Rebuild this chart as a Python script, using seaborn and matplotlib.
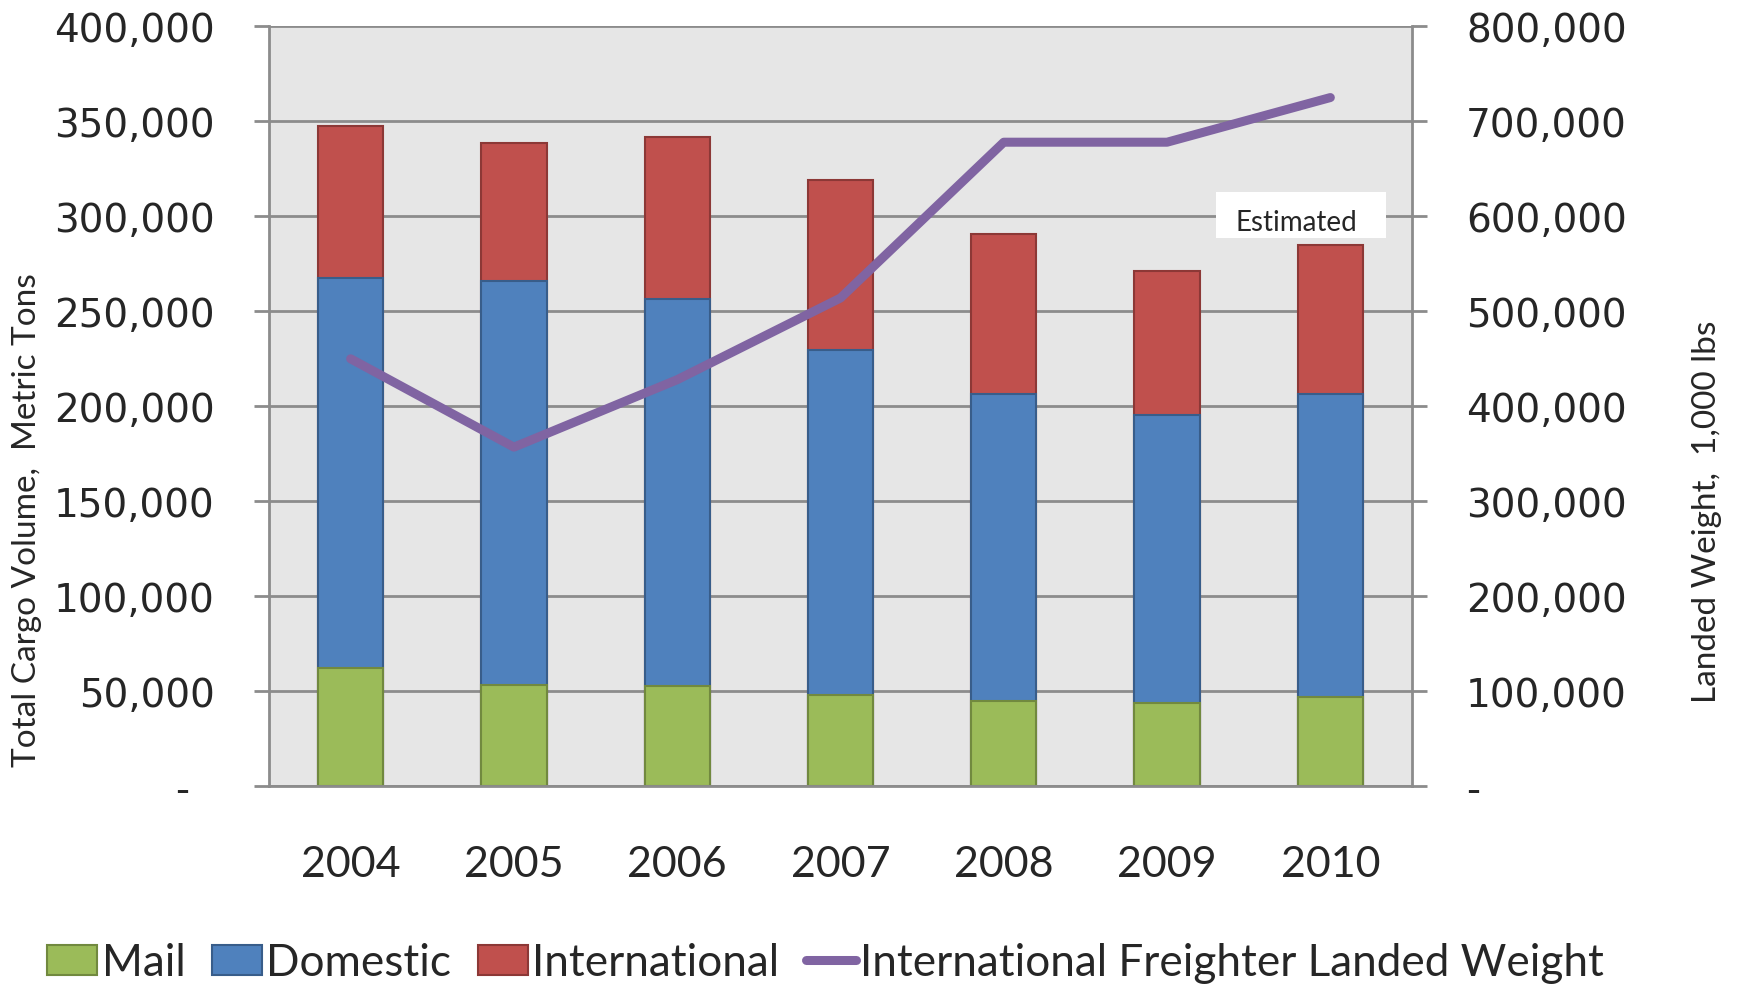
import numpy as np
import pandas as pd
import matplotlib
matplotlib.use("Agg")
import matplotlib.pyplot as plt
import seaborn as sns
from matplotlib.patches import Patch, Rectangle
from matplotlib.lines import Line2D
from matplotlib.ticker import FuncFormatter, FixedLocator

# Annual cargo volumes (metric tons) and freighter landed weight (1,000 lbs)
years = ["2004", "2005", "2006", "2007", "2008", "2009", "2010"]
mail = [62100, 53500, 52600, 48000, 44700, 43700, 47000]
domestic = [205300, 212500, 203700, 181800, 161600, 151700, 159600]
international = [80000, 72600, 85400, 89100, 84400, 75800, 78300]
landed_weight = [450000, 357000, 428000, 514000, 678000, 678000, 725000]

left_ticks = [0, 50000, 100000, 150000, 200000, 250000, 300000, 350000, 400000]
right_ticks = [0, 100000, 200000, 300000, 400000, 500000, 600000, 700000, 800000]

C_MAIL, E_MAIL = "#9bbb59", "#71893f"
C_DOM, E_DOM = "#4f81bd", "#385d8a"
C_INT, E_INT = "#c0504d", "#8c3836"
C_LINE = "#8064a2"
GRID = "#8c8c8c"

sns.set_style("white")
plt.rcParams["font.family"] = ["DejaVu Sans"]
LABEL_FONT = ["Lato", "DejaVu Sans"]

df = pd.DataFrame({
    "year": years,
    "mail": mail,
    "domestic": domestic,
    "international": international,
})
df["mail_dom"] = df["mail"] + df["domestic"]
df["total"] = df["mail_dom"] + df["international"]

W, H = 1738, 987
fig = plt.figure(figsize=(W / 100, H / 100), dpi=100)
ax = fig.add_axes([269 / W, 1 - 787.3 / H, (1412 - 269) / W, 760 / H])
ax.set_facecolor("#e6e6e6")
ax.set_axisbelow(True)

# Stacked bars: draw cumulative totals back to front
for col, fc, ec in [("total", C_INT, E_INT), ("mail_dom", C_DOM, E_DOM), ("mail", C_MAIL, E_MAIL)]:
    sns.barplot(data=df, x="year", y=col, color=fc, edgecolor=ec, linewidth=1.5,
                width=0.4, saturation=1, ax=ax, zorder=2)

ax.set_xlim(-0.5, len(years) - 0.5)
ax.set_ylim(0, 400000)
ax.set_xlabel("")
ax.set_ylabel("")

ax.yaxis.set_major_locator(FixedLocator(left_ticks))
ax.yaxis.set_major_formatter(FuncFormatter(lambda v, p: "-  " if v == 0 else f"{v:,.0f}"))
ax.yaxis.grid(True, color=GRID, linewidth=2)
ax.xaxis.grid(False)

ax.set_xticks(range(len(years)))
ax.set_xticklabels(years, fontfamily=LABEL_FONT, fontsize=31)
ax.set_xticks(np.arange(-0.5, len(years)), minor=True)
ax.tick_params(axis="x", which="major", length=0, pad=42)
ax.tick_params(axis="x", which="minor", length=11, width=1.5, color=GRID, direction="out")
ax.tick_params(axis="y", length=11, width=2, color=GRID, direction="out", labelsize=28, pad=28)

for side in ["left", "right", "bottom"]:
    ax.spines[side].set_color(GRID)
    ax.spines[side].set_linewidth(2)
ax.spines["top"].set_visible(False)

# Secondary axis: landed weight line
ax2 = ax.twinx()
sns.lineplot(x=np.arange(len(years)), y=landed_weight, color=C_LINE, linewidth=6.5,
             ax=ax2, solid_capstyle="round", zorder=5)
ax2.set_ylim(0, 800000)
ax2.yaxis.set_major_locator(FixedLocator(right_ticks))
ax2.yaxis.set_major_formatter(FuncFormatter(lambda v, p: "-" if v == 0 else f"{v:,.0f}"))
ax2.tick_params(axis="y", length=11, width=2, color=GRID, direction="out", labelsize=28, pad=28)
ax2.grid(False)
ax2.set_ylabel("")
for side in ["left", "right", "top", "bottom"]:
    ax2.spines[side].set_visible(False)

# "Estimated" note on a white panel
ax2.add_patch(Rectangle((0.8285, 0.7214), 0.1487, 0.0605, transform=ax2.transAxes,
                        facecolor="white", edgecolor="none", zorder=6))
ax2.text(0.8985, 0.743, "Estimated", transform=ax2.transAxes, ha="center", va="center",
         fontsize=20, fontfamily=LABEL_FONT, zorder=7)

fig.text(27 / W, 1 - 520 / H, "Total Cargo Volume,  Metric Tons", rotation=90,
         ha="center", va="center", fontsize=24, fontfamily=LABEL_FONT)
fig.text(1707 / W, 1 - 511.5 / H, "Landed Weight,  1,000 lbs", rotation=90,
         ha="center", va="center", fontsize=24, fontfamily=LABEL_FONT)

handles = [
    Patch(facecolor=C_MAIL, edgecolor=E_MAIL, linewidth=1.5),
    Patch(facecolor=C_DOM, edgecolor=E_DOM, linewidth=1.5),
    Patch(facecolor=C_INT, edgecolor=E_INT, linewidth=1.5),
    Line2D([], [], color=C_LINE, linewidth=6.5, solid_capstyle="round"),
]
labels = ["Mail", "Domestic", "International", "International Freighter Landed Weight"]
fig.legend(handles, labels, loc="center", bbox_to_anchor=(0.475, 1 - 964 / H), ncol=4,
           frameon=False, prop={"family": LABEL_FONT, "size": 31.8},
           handlelength=1.13, handleheight=0.68, handletextpad=0.1, columnspacing=0.6,
           borderaxespad=0, borderpad=0)

fig.savefig("out.png", dpi=100)
